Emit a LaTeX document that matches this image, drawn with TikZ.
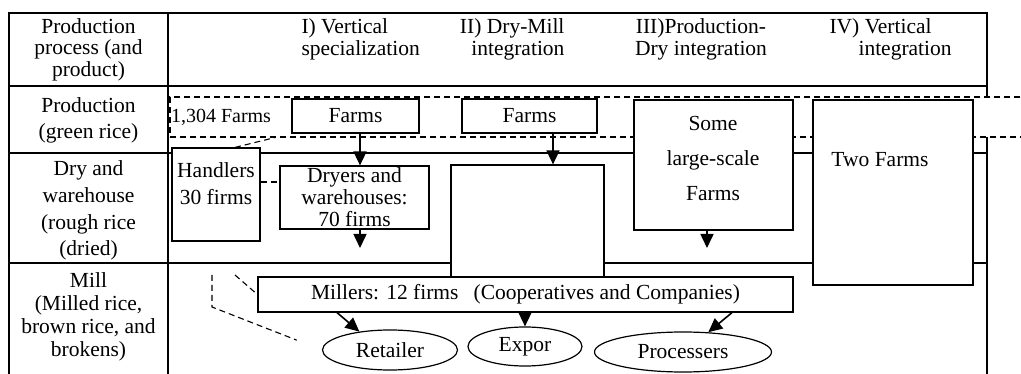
\documentclass[tikz,border=0pt]{standalone}
\usepackage{tikz}
\usepackage{fontspec}
\setmainfont{Liberation Serif}
\usetikzlibrary{arrows.meta}
\usetikzlibrary{shapes.geometric}
\usetikzlibrary{positioning}

\tikzset{
    rule/.style={line width=1.6pt},
    box/.style={draw,fill=white,line width=1.2pt,inner sep=0pt},
    oval/.style={ellipse,draw,fill=white,line width=1.2pt,inner sep=0pt},
    flow/.style={line width=1.6pt,-{Triangle[width=13pt,length=14pt]}},
    link/.style={line width=1.1pt,dash pattern=on 6pt off 4pt}
}

\begin{document}
\begin{tikzpicture}[x=1pt,y=-1pt,font=\fontsize{21.5}{22}\selectfont]
    \useasboundingbox (0,0) rectangle (1021,374);
    % table
    \draw[rule] (9,378) -- (9,13) -- (987,13) -- (987,378);
    \draw[rule] (168,13) -- (168,378);
    \draw[rule] (9,86) -- (987,86);
    \draw[rule] (9,153) -- (987,153);
    \draw[rule] (9,263) -- (987,263);

    \node[align=center,font=\fontsize{21.5}{21.5}\selectfont] (stageHead) at (88.5,49.5) {Production\\process (and\\product)};
    \node[align=center,font=\fontsize{21.5}{26}\selectfont] (stageProd) at (88.5,120) {Production\\(green rice)};
    \node[align=center,font=\fontsize{21.5}{26.7}\selectfont] (stageDry) at (88.5,210.5) {Dry and\\warehouse\\(rough rice\\(dried)};
    \node[align=center,font=\fontsize{21.5}{23}\selectfont] (stageMill) at (88.5,317) {Mill\\(Milled rice,\\brown rice, and\\brokens)};

    \node[align=left,anchor=west] (typeI) at (298,39) {I) Vertical\\specialization};
    \node[align=right,anchor=east] (typeII) at (568,39) {II) Dry-Mill\\integration};
    \node[align=center] (typeIII) at (701,39) {III)Production-\\Dry integration};
    \node[align=left,anchor=west] (typeIV) at (826,39) {IV) Vertical\\\hspace*{29pt}integration};

    % production row
    \node[draw,fill=white,link,minimum width=860pt,minimum height=40pt] (allFarms) at (600,117) {};
    \node[font=\fontsize{20}{22}\selectfont] (allFarmsText) at (221,117) {1,304 Farms};
    \node[box,minimum width=127pt,minimum height=34pt] (farmsA) at (355.5,116) {Farms};
    \node[box,minimum width=135pt,minimum height=34pt] (farmsB) at (529.5,116) {Farms};
    \node[box,minimum width=159pt,minimum height=130pt] (bigC) at (713.5,165) {};
    \node[align=center,font=\fontsize{21.5}{35}\selectfont] (bigCText) at (713,158) {Some\\large-scale\\Farms};
    \node[box,minimum width=160pt,minimum height=185pt] (bigD) at (893,192.5) {};
    \node (bigDText) at (880,160) {Two Farms};

    % dry row
    \node[box,minimum width=88pt,minimum height=93pt] (handlers) at (216,194.5) {};
    \node[align=center,font=\fontsize{21.5}{27}\selectfont] (handlersText) at (216,183.5) {Handlers\\30 firms};
    \node[box,align=center,minimum width=149pt,minimum height=63pt] (dryers) at (354.5,197.5) {Dryers and\\warehouses:\\70 firms};
    \node[box,minimum width=153pt,minimum height=125pt] (bigB) at (527.5,227.5) {};

    % mill row
    \node[box,minimum width=535pt,minimum height=35pt] (millers) at (525.5,294.5) {Millers: 12 firms\hspace{0.7em}(Cooperatives and Companies)};
    \node[oval,minimum width=135pt,minimum height=40pt] (retailer) at (390,350) {Retailer};
    \node[oval,minimum width=114pt,minimum height=39pt] (expor) at (525,346.5) {Expor};
    \node[oval,minimum width=177pt,minimum height=40pt] (processers) at (683,352) {Processers};

    \coordinate (dryEnd) at (360,248);
    \coordinate (bigCEnd) at (707,248);
    \coordinate (millTop) at (212,275);
    \coordinate (millBend) at (212,307);
    \coordinate (millTopB) at (235,275);

    \draw[flow] (farmsA.south -| dryEnd) -- (dryers.north -| dryEnd);
    \draw[flow] (farmsB.south -| 553,0) -- (bigB.north -| 553,0);
    \draw[flow] (dryers.south -| dryEnd) -- (dryEnd);
    \draw[flow] (bigC.south -| bigCEnd) -- (bigCEnd);
    \draw[flow] (millers.south -| 337,0) -- (retailer.149);
    \draw[flow] (millers.south -| expor.north) -- (expor.north);
    \draw[flow] (millers.south -| 732,0) -- (processers.38);

    \draw[link] (handlers.north -| 235,0) -- (allFarms.south -| 275,0);
    \draw[link] (handlers.east |- 0,182) -- (dryers.west |- 0,182);
    \draw[link,shorten >=27pt] (millTop) -- (millBend) -- (retailer.west);
    \draw[link] (millTopB) -- (millers.west);
\end{tikzpicture}
\end{document}
